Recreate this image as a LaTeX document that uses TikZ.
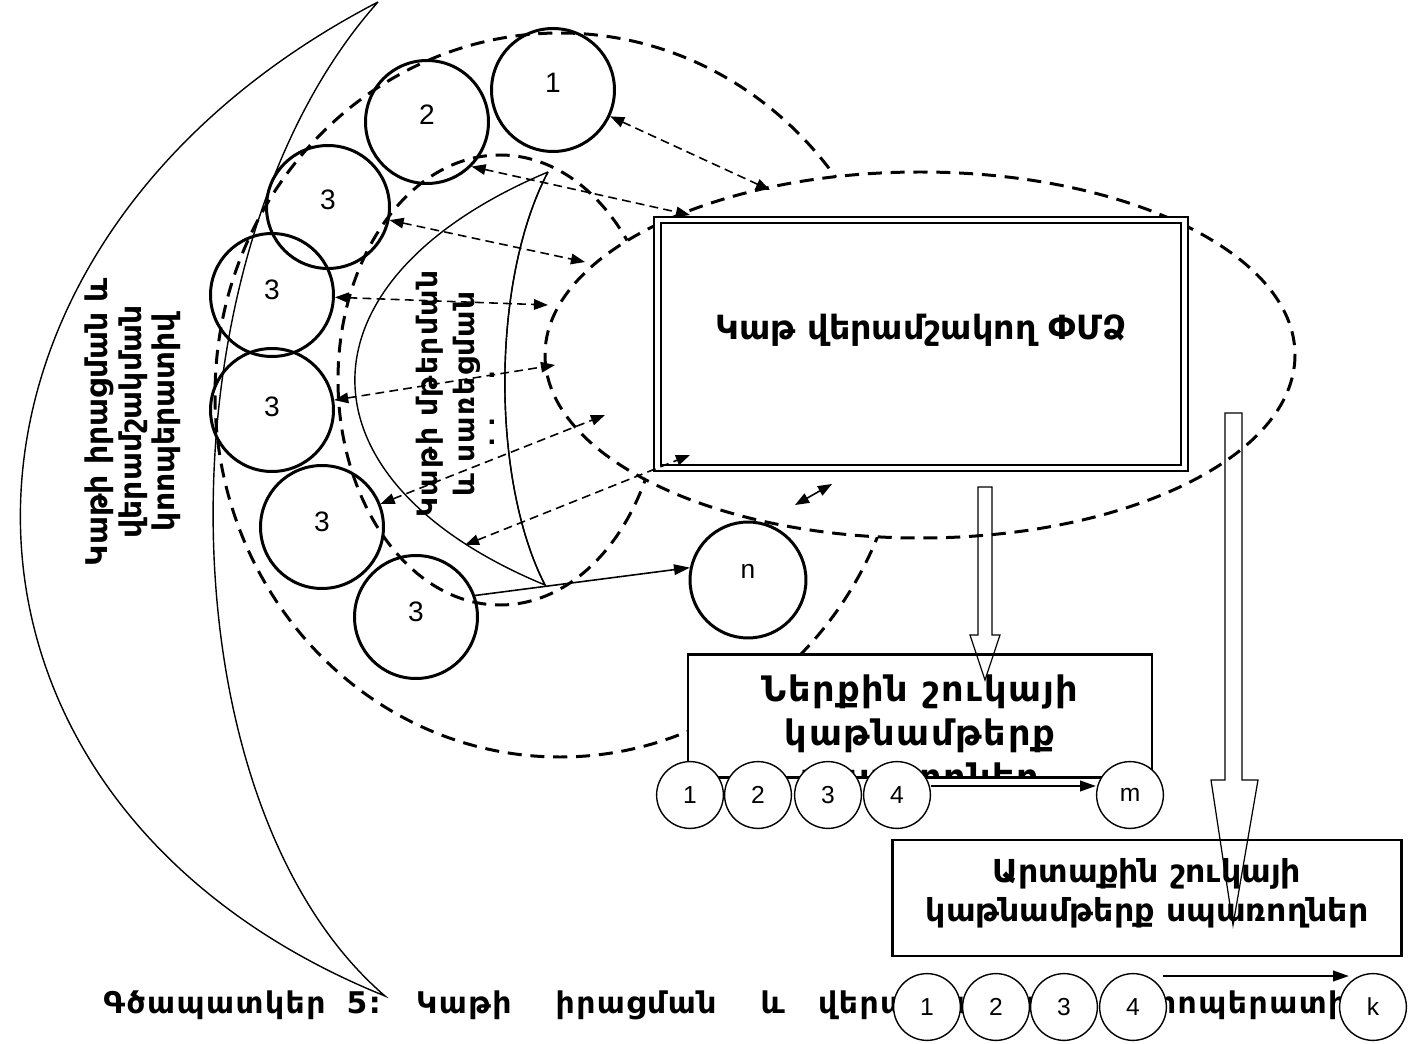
\documentclass[tikz,border=0pt]{standalone}
\usepackage{fontspec}
\setmainfont{DejaVu Sans}
\newfontfamily\numfont{Liberation Sans}
\newfontfamily\armwide[LetterSpace=5]{DejaVu Sans}
\usetikzlibrary{arrows.meta,positioning}
\tikzset{
  bigball/.style={circle, draw, line width=1.7pt, minimum size=70pt, inner sep=0pt,
                  font=\numfont\fontsize{16}{16}\selectfont},
  nball/.style={circle, draw, line width=1.7pt, minimum size=66pt, inner sep=0pt,
                  font=\numfont\fontsize{15}{15}\selectfont},
  smallball/.style={circle, draw, fill=white, line width=0.8pt, minimum size=38pt, inner sep=0pt,
                  font=\numfont\fontsize{14}{14}\selectfont},
  dashline/.style={line width=1.7pt, dash pattern=on 8pt off 5pt},
  linkarrow/.style={line width=0.9pt, dash pattern=on 5pt off 3pt, {Triangle[length=8pt,width=6pt]}-{Triangle[length=8pt,width=6pt]}},
  hollowarrow/.style={line width=0.7pt},
  textbox/.style={draw, line width=1.5pt, fill=white},
  armtext/.style={font=\bfseries\fontsize{18}{22}\selectfont, align=center}
}
\begin{document}
\begin{tikzpicture}[x=0.02cm, y=-0.02cm]
\useasboundingbox (0,0) rectangle (1421,1044);

% big crescent
\draw[line width=0.8pt] (378,2) .. controls (-100,250) and (-100,800) .. (385,996)
  .. controls (157,800) and (157,250) .. (378,2);
\node[armtext, rotate=90, font=\bfseries\fontsize{17}{19}\selectfont] (coop) at (133,422)
  {Կաթի իրացման և\\վերամշակման\\կոոպերատիվ};

% dashed ellipses
\draw[dashline] (560,395) ellipse (345 and 362);
\draw[dashline] (500,380) ellipse (162 and 225);

% inner crescent
\draw[line width=0.8pt, fill=white] (548,172) .. controls (291,280) and (291,480) .. (545,585)
  .. controls (491,480) and (491,280) .. (548,172);
\begin{scope}
\clip (300,150) rectangle (493,600);
\node[armtext, rotate=90, anchor=north, font=\armwide\bfseries\fontsize{16}{21}\selectfont] (collect) at (410,394)
  {Կաթի մթերման\\և սառեցման\\կետեր};
\end{scope}
\draw[line width=0.8pt] (548,172) .. controls (491,280) and (491,480) .. (545,585);

% central ellipse and box
\draw[dashline, fill=white] (920,355) ellipse (375 and 183);
\node[draw, double, double distance=2.5pt, line width=1.2pt, fill=white,
      minimum width=300pt, minimum height=141pt] (proc) at (921,344) {};
\node[armtext, font=\bfseries\fontsize{19}{22}\selectfont] (proctext) at (921,330) {Կաթ վերամշակող ՓՄՁ};

% big balls
\node[bigball] (b1) at (553,90) {\raisebox{8pt}{1}};
\node[bigball] (b2) at (427,122) {\raisebox{8pt}{2}};
\node[bigball] (b3) at (328,207) {\raisebox{8pt}{3}};
\node[bigball] (b4) at (272,295) {\raisebox{6pt}{3}};
\node[bigball] (b5) at (272,410) {\raisebox{4pt}{3}};
\node[bigball] (b6) at (322,527) {\raisebox{6pt}{3}};
\node[bigball] (b7) at (416,617) {\raisebox{6pt}{3}};
\node[nball] (bn) at (748,580) {\raisebox{10pt}{n}};

% link arrows
\coordinate (e1) at (770,190);
\coordinate (e2) at (690,215);
\coordinate (e3) at (585,262);
\coordinate (e4) at (548,305);
\coordinate (e5) at (555,365);
\coordinate (e6) at (605,415);
\coordinate (e7) at (690,455);
\coordinate (s7) at (465,545);
\draw[linkarrow] (b1) -- (e1);
\draw[linkarrow] (b2.south east) -- (e2);
\draw[linkarrow] (b3) -- (e3);
\draw[linkarrow] (b4) -- (e4);
\draw[linkarrow] (b5) -- (e5);
\draw[linkarrow] (b6) -- (e6);
\draw[linkarrow] (s7) -- (e7);
\coordinate (d1) at (795,505);
\coordinate (d2) at (832,484);
\draw[line width=0.9pt, {Triangle[length=8pt,width=6pt]}-{Triangle[length=8pt,width=6pt]}] (d1) -- (d2);
\draw[line width=0.9pt, -{Triangle[length=9pt,width=6pt]}] (b7.20) -- (bn.168);

% lower boxes
\node[textbox, minimum width=264pt, minimum height=70pt] (inner) at (920,716) {};
\begin{scope}
\clip (inner.south west) rectangle (inner.north east);
\node[armtext, font=\armwide\bfseries\fontsize{20}{25}\selectfont] (innertext) at (920,736)
  {Ներքին շուկայի\\կաթնամթերք\\սպառողներ};
\end{scope}
\node[textbox, minimum width=290pt, minimum height=66pt] (outer) at (1147,898) {};
\node[armtext] (outertext) at (1147,893) {Արտաքին շուկայի\\կաթնամթերք սպառողներ};

% hollow arrows
\draw[hollowarrow] (978,487) -- (978,635) -- (970,635) -- (985,680) -- (1000,635) -- (992,635) -- (992,487) -- cycle;
\draw[hollowarrow] (1225,413) -- (1225,780) -- (1211,780) -- (1233,925) -- (1258,780) -- (1242,780) -- (1242,413) -- cycle;

% caption
\node[anchor=west, inner sep=0pt, font=\armwide\bfseries\fontsize{17}{19}\selectfont] (caption) at (103,1005)
  {Գծապատկեր\hspace{12pt}5:\hspace{20pt}Կաթի\hspace{25pt}իրացման\hspace{25pt}և\hspace{19pt}վերամշակման\hspace{40pt}կոոպերատիվ};

% ball rows
\foreach \n/\x in {1/690,2/758,3/828,4/897}
  \node[smallball] (m\n) at (\x,795) {\n};
\node[smallball] (mm) at (1130,795) {m};
\draw[line width=1.2pt, -{Triangle[length=9pt,width=6pt]}] (m4.east |- 0,786) -- (mm.west |- 0,786);
\foreach \n/\x in {1/927,2/996,3/1064,4/1133}
  \node[smallball] (k\n) at (\x,1007) {\n};
\node[smallball] (kk) at (1373,1007) {k};
\coordinate (ka) at (1163,976);
\draw[line width=1.2pt, -{Triangle[length=9pt,width=6pt]}] (ka) -- (kk.north west |- ka);
\end{tikzpicture}
\end{document}
